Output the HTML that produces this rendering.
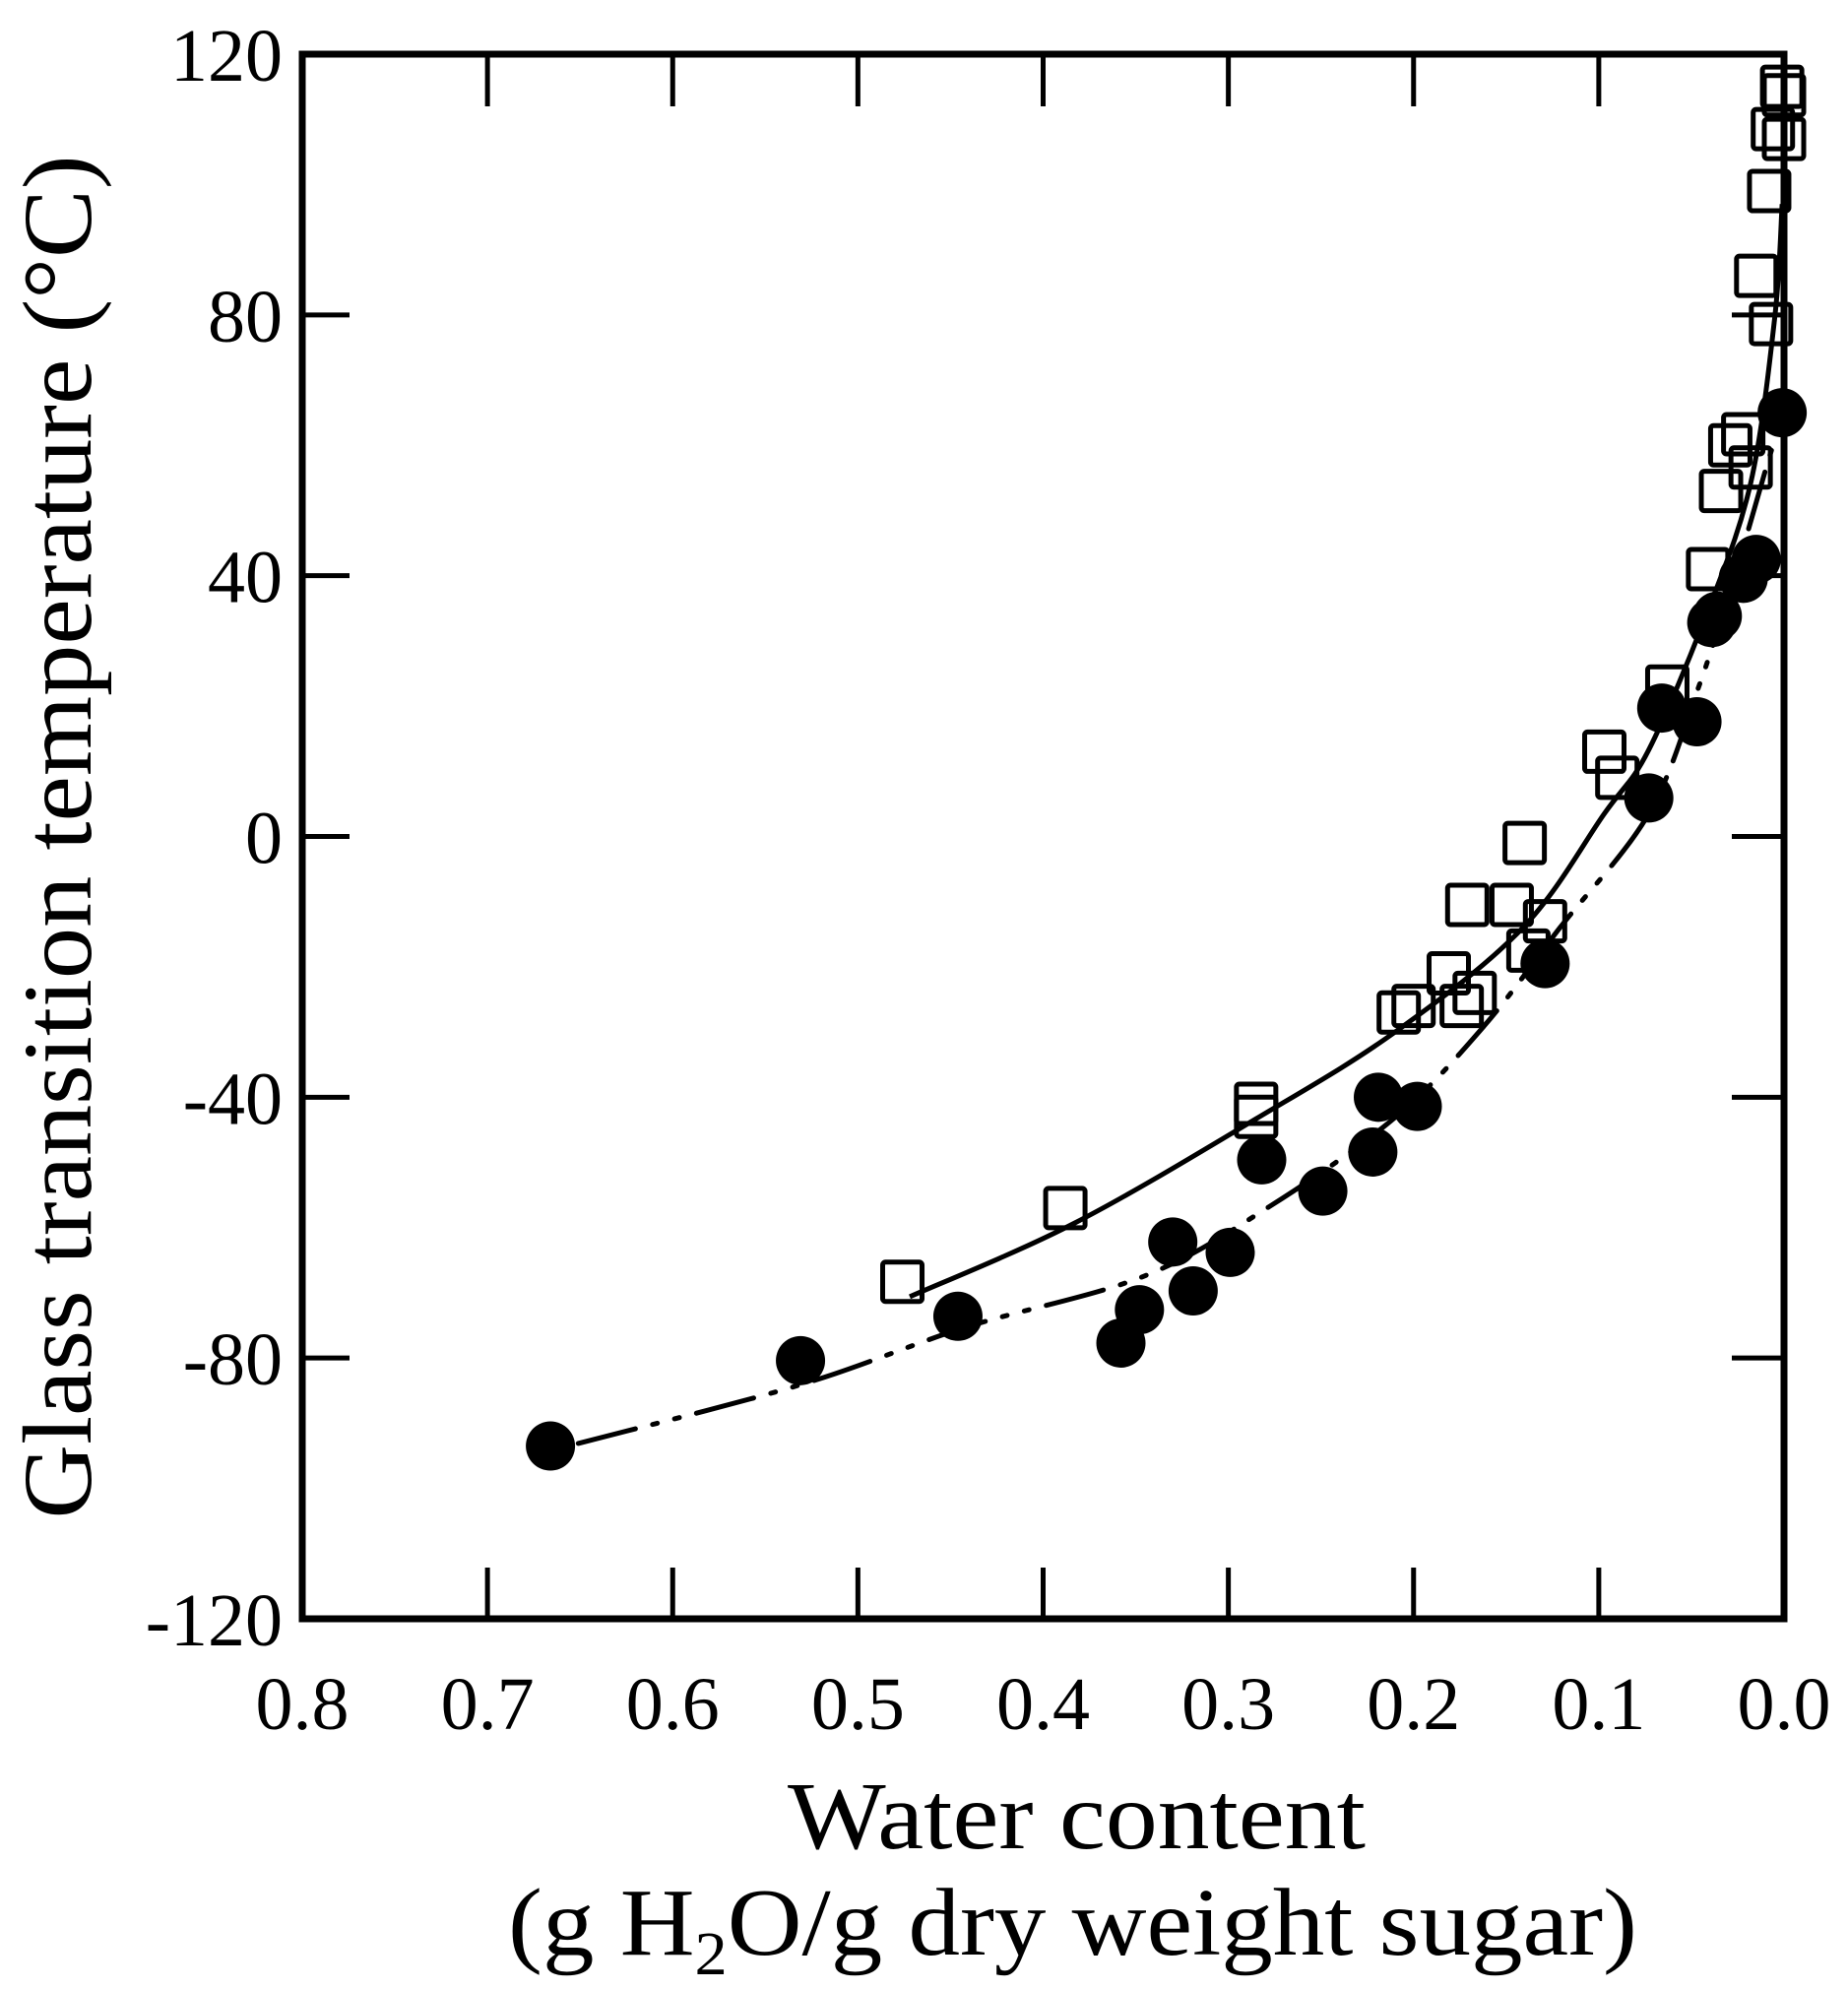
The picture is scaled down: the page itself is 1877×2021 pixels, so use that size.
<!DOCTYPE html>
<html><head><meta charset="utf-8"><style>
html,body{margin:0;padding:0;background:#fff;}
svg{display:block;}
text{font-family:"Liberation Serif",serif;fill:#000;}
</style></head><body>
<svg id="chart" width="1877" height="2021" viewBox="0 0 1877 2021" xmlns="http://www.w3.org/2000/svg">
<g id="axes"></g>
<g id="curves"></g>
<g id="marks"></g>
<text transform="translate(92,850) rotate(-90)" text-anchor="middle" font-size="100" textLength="1385" lengthAdjust="spacingAndGlyphs">Glass transition temperature (°C)</text>
<text x="800" y="1877" font-size="98" textLength="587" lengthAdjust="spacingAndGlyphs">Water content</text>
<text x="516" y="1985" font-size="98" textLength="1147" lengthAdjust="spacingAndGlyphs">(g H<tspan font-size="62" dy="20">2</tspan><tspan dy="-20">O/g dry weight sugar)</tspan></text>
</svg>
<script>
const xTicks=[0.8,0.7,0.6,0.5,0.4,0.3,0.2,0.1,0.0];
const xTickLabels=["0.8","0.7","0.6","0.5","0.4","0.3","0.2","0.1","0.0"];
const yTicks=[120,80,40,0,-40,-80,-120];
const yTickLabels=["120","80","40","0","-40","-80","-120"];
const squareX=[0.476,0.388,0.285,0.285,0.208,0.200,0.181,0.174,0.167,0.171,0.147,0.140,0.129,0.138,0.097,0.090,0.063,0.041,0.034,0.029,0.022,0.018,0.015,0.007,0.008,0.006,0.000,0.000,0.001];
const squareY=[-68.3,-57,-41,-43,-27,-26,-21,-26,-24,-10.5,-10.5,-1,-13,-17.5,13,9,23,41,53,60,61.7,56.6,86,78.6,99,108.5,113.7,107,115];
const circleX=[0.666,0.531,0.446,0.358,0.348,0.330,0.319,0.299,0.282,0.249,0.222,0.219,0.198,0.129,0.073,0.066,0.047,0.039,0.036,0.022,0.015,0.001];
const circleY=[-93.5,-80.4,-73.6,-77.7,-72.6,-62.2,-69.7,-63.8,-49.6,-54.4,-48.4,-40,-41.4,-19.5,5.9,19.7,17.6,32.8,33.8,39.6,42.5,65];
const solidCurveX=[0.472,0.383,0.285,0.210,0.141,0.097,0.073,0.041,0.018,0.005,0.001];
const solidCurveY=[-70.6,-59.3,-43.3,-30,-14,3.5,13.3,34.7,54.2,79.6,97];
const dashCurveX=[0.651,0.531,0.442,0.346,0.278,0.210,0.162,0.121,0.073,0.046,0.026,0.008,0.001];
const dashCurveY=[-93.1,-84.1,-75.3,-67.5,-56.8,-43.1,-29.1,-14,3.5,23,40.6,58.1,64];

const NS="http://www.w3.org/2000/svg";
const L=307,R=1812,T=55,B=1644;
function sx(v){return R-(v/0.8)*(R-L);}
function sy(v){return B-(v+120)/240*(B-T);}
function mk(tag,attrs,parent){const e=document.createElementNS(NS,tag);for(const k in attrs)e.setAttribute(k,attrs[k]);parent.appendChild(e);return e;}
const axes=document.getElementById('axes');
let fr=mk('rect',{x:L,y:T,width:R-L,height:B-T,fill:'none',stroke:'#000','stroke-width':7},axes);


xTicks.forEach((v,i)=>{
  const x=sx(v);
  let t1=mk('line',{x1:x,y1:T,x2:x,y2:T+53,stroke:'#000','stroke-width':5},axes);
  
  
  let t2=mk('line',{x1:x,y1:B,x2:x,y2:B-52,stroke:'#000','stroke-width':5},axes);
  
  
  let lb=mk('text',{x:x,y:1756,'text-anchor':'middle','font-size':76},axes);
  lb.textContent=xTickLabels[i];
  
  
});
yTicks.forEach((v,i)=>{
  const y=sy(v);
  let t1=mk('line',{x1:L,y1:y,x2:L+48,y2:y,stroke:'#000','stroke-width':5},axes);
  
  
  let t2=mk('line',{x1:R,y1:y,x2:R-53,y2:y,stroke:'#000','stroke-width':5},axes);
  
  
  let lb=mk('text',{x:287,y:y+27,'text-anchor':'end','font-size':76},axes);
  lb.textContent=yTickLabels[i];
  
  
});
function smoothPath(xs,ys){
  const p=xs.map((v,i)=>[sx(v),sy(ys[i])]);
  let d='M'+p[0][0]+','+p[0][1];
  for(let i=0;i<p.length-1;i++){
    const p0=p[i-1]||p[i],p1=p[i],p2=p[i+1],p3=p[i+2]||p2;
    const c1=[p1[0]+(p2[0]-p0[0])/6,p1[1]+(p2[1]-p0[1])/6];
    const c2=[p2[0]-(p3[0]-p1[0])/6,p2[1]-(p3[1]-p1[1])/6];
    d+=' C'+c1+' '+c2+' '+p2;
  }
  return d;
}
const curves=document.getElementById('curves');
let c1=mk('path',{d:smoothPath(solidCurveX,solidCurveY),fill:'none',stroke:'#000','stroke-width':5},curves);


let c2=mk('path',{d:smoothPath(dashCurveX,dashCurveY),fill:'none',stroke:'#000','stroke-width':5,'stroke-dasharray':'60 18 5 18 5 18','stroke-linecap':'round'},curves);


const marks=document.getElementById('marks');
squareX.forEach((v,i)=>{
  let s=mk('rect',{x:sx(v)-20,y:sy(squareY[i])-20,width:40,height:40,fill:'none',stroke:'#000','stroke-width':5,rx:3},marks);
  
  
});
circleX.forEach((v,i)=>{
  let c=mk('circle',{cx:sx(v),cy:sy(circleY[i]),r:25,fill:'#000'},marks);
  
  
});
</script>
</body></html>
